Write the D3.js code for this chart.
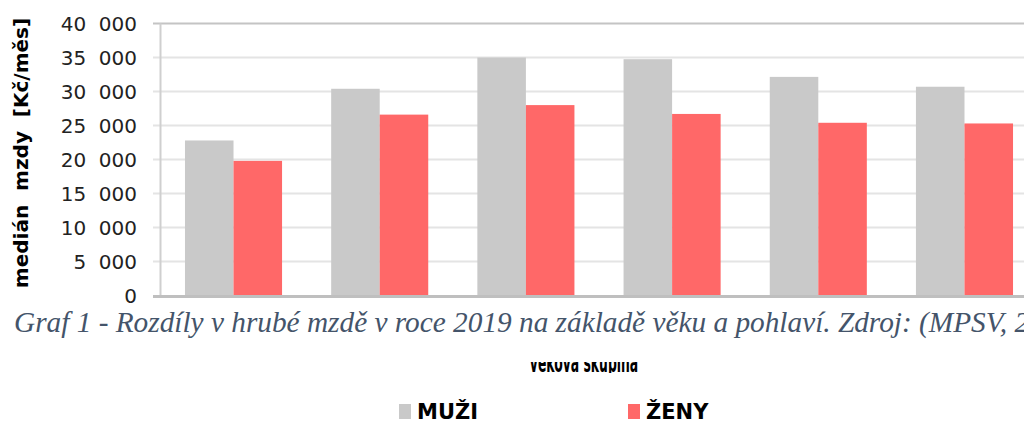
<!DOCTYPE html>
<html><head><meta charset="utf-8">
<script src="https://cdn.jsdelivr.net/npm/d3@7"></script>
<style>
html,body{margin:0;padding:0;background:#fff;overflow:hidden;}
svg{display:block;}
text{white-space:pre;}
</style></head>
<body>
<svg id="c" width="1024" height="421"></svg>
<script>
const categories = ["do 20 let", "20–29 let", "30–39 let", "40–49 let", "50–59 let", "60 a více let"];
const seriesNames = ["MUŽI", "ŽENY"];
const menValues = [22800, 30400, 35000, 34750, 32150, 30700];
const womenValues = [19800, 26600, 28000, 26700, 25400, 25300];
const yTicks = [0, 5000, 10000, 15000, 20000, 25000, 30000, 35000, 40000];
const yTitle = "medián  mzdy  [Kč/měs]";
const xTitle = "věková skupina";
const caption = "Graf 1 - Rozdíly v hrubé mzdě v roce 2019 na základě věku a pohlaví. Zdroj: (MPSV, 2020)";

const colors = ["#C9C9C9", "#FF6868"];
const svg = d3.select("#c");

const y = d3.scaleLinear().domain([0, 40000]).range([295.5, 23.5]);
const x = d3.scaleBand().domain(categories).range([161, 1037]).paddingInner(0.336).paddingOuter(0.164);
const xs = d3.scaleBand().domain(seriesNames).range([0, x.bandwidth()]).padding(0);

// gridlines
svg.append("g").selectAll("line").data(yTicks.filter(d => d > 0)).join("line")
  .attr("x1", 153).attr("x2", 1024)
  .attr("y1", d => y(d)).attr("y2", d => y(d))
  .attr("stroke", d => d === 40000 ? "#C4C4C4" : "#E4E4E4")
  .attr("stroke-width", 2);

// left axis line
svg.append("line").attr("x1", 160.5).attr("x2", 160.5).attr("y1", y(40000)).attr("y2", y(0))
  .attr("stroke", "#CFCFCF").attr("stroke-width", 2);

// y tick labels
const fmt = v => v === 0 ? "0" : d3.format(",")(v).replace(",", "\u00a0\u00a0");
svg.append("g").selectAll("text").data(yTicks).join("text")
  .attr("x", 137).attr("y", d => y(d)).attr("dy", "0.36em")
  .attr("text-anchor", "end")
  .attr("font-family", "DejaVu Sans").attr("font-size", 20).attr("fill", "#222")
  .text(fmt);

// bars
const data = categories.map((c, i) => ({c, vals: [menValues[i], womenValues[i]]}));
const g = svg.append("g").selectAll("g").data(data).join("g")
  .attr("transform", d => `translate(${x(d.c)},0)`);
g.selectAll("rect").data(d => d.vals.map((v, k) => ({s: seriesNames[k], v, k}))).join("rect")
  .attr("x", d => xs(d.s)).attr("width", xs.bandwidth())
  .attr("y", d => y(d.v)).attr("height", d => y(0) - y(d.v))
  .attr("fill", d => colors[d.k]);

// bottom axis
svg.append("line").attr("x1", 153).attr("x2", 1024).attr("y1", y(0) + 1).attr("y2", y(0) + 1)
  .attr("stroke", "#BFBFBF").attr("stroke-width", 3);

// y title
svg.append("text")
  .attr("transform", "translate(28,153) rotate(-90)")
  .attr("text-anchor", "middle")
  .attr("font-family", "DejaVu Sans").attr("font-weight", "bold").attr("font-size", 20).attr("fill", "#000")
  .text(yTitle);

// x title (partially covered by caption)
svg.append("defs").append("clipPath").attr("id", "xclip")
  .append("rect").attr("x", 0).attr("y", 362).attr("width", 1024).attr("height", 11);
svg.append("g").attr("clip-path", "url(#xclip)")
  .append("text")
  .attr("transform", "translate(584,372) scale(1,2.2)")
  .attr("text-anchor", "middle")
  .attr("font-family", "DejaVu Sans").attr("font-weight", "bold").attr("font-size", 12.4).attr("fill", "#000")
  .text(xTitle);

// caption
svg.append("text")
  .attr("x", 14).attr("y", 332)
  .attr("font-family", "Liberation Serif").attr("font-style", "italic").attr("font-size", 29.3)
  .attr("fill", "#44546A")
  .text(caption);

// legend
const legX = [399, 628];
const leg = svg.append("g").selectAll("g").data(seriesNames).join("g")
  .attr("transform", (d, i) => `translate(${legX[i]},0)`);
leg.append("rect").attr("x", 0).attr("y", 404).attr("width", 12).attr("height", 15)
  .attr("fill", (d, i) => colors[i]);
leg.append("text").attr("x", 18).attr("y", 419)
  .attr("font-family", "DejaVu Sans").attr("font-weight", "bold").attr("font-size", 21).attr("fill", "#000")
  .text(d => d);
</script>
</body></html>
